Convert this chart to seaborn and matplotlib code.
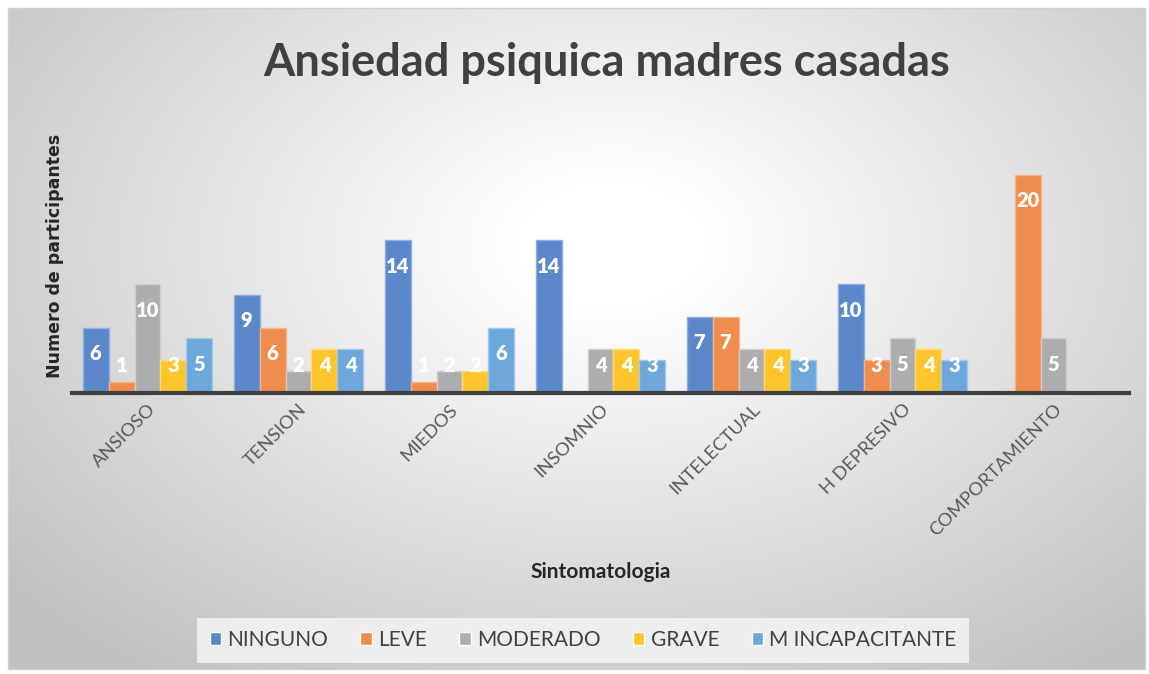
import numpy as np
import pandas as pd
import matplotlib
matplotlib.use("Agg")
import matplotlib.pyplot as plt
import seaborn as sns
from matplotlib.patches import Rectangle

categorias = ["ANSIOSO", "TENSION", "MIEDOS", "INSOMNIO", "INTELECTUAL", "H DEPRESIVO", "COMPORTAMIENTO"]
series = ["NINGUNO", "LEVE", "MODERADO", "GRAVE", "M INCAPACITANTE"]
ninguno = [6, 9, 14, 14, 7, 10, 0]
leve = [1, 6, 1, 0, 7, 3, 20]
moderado = [10, 2, 2, 4, 4, 5, 5]
grave = [3, 4, 2, 4, 4, 4, 0]
m_incapacitante = [5, 4, 6, 3, 3, 3, 0]
valores = [ninguno, leve, moderado, grave, m_incapacitante]
colores = ["#5B87CB", "#EE8D4D", "#ADADAD", "#FFC52A", "#6DA7DB"]
bordes = ["#8FAEDF", "#F5B58A", "#CFCFCF", "#FFDB80", "#A3C8EA"]

rows = []
for s, vals in zip(series, valores):
    for c, v in zip(categorias, vals):
        rows.append({"Sintomatologia": c, "Serie": s, "Valor": v})
df = pd.DataFrame(rows)

sns.set_theme(style="white")
plt.rcParams["font.family"] = ["Lato", "DejaVu Sans"]

W, H = 1149, 674
fig = plt.figure(figsize=(W / 100, H / 100), dpi=100)

# background with radial gradient
bg = fig.add_axes([0, 0, 1, 1], zorder=-10)
bg.set_xlim(0, W)
bg.set_ylim(H, 0)
bg.axis("off")
yy, xx = np.mgrid[0:H, 0:W]
d = np.sqrt(((xx - 610) / 640.0) ** 2 + ((yy - 240) / 430.0) ** 2)
val = 1.0 - 0.22 * np.clip(d - 0.15, 0, 1.2) / 1.0
val = np.clip(val, 0.76, 1.0)
img = np.dstack([val, val, val])
bg.imshow(img, extent=(8, W - 4, H - 5, 8), aspect="auto", zorder=0)
bg.add_patch(Rectangle((8, 8), W - 12, H - 13, fill=False, edgecolor="#D0D0D0", lw=1))

top_px, base_px = 130.5, 393
ymax = 24.06
ax = fig.add_axes([72 / W, (H - base_px) / H, 1057 / W, (base_px - top_px) / H])
ax.patch.set_alpha(0)

sns.barplot(data=df, x="Sintomatologia", y="Valor", hue="Serie", order=categorias,
            hue_order=series, palette=colores, width=0.86, gap=0, ax=ax,
            linewidth=1.0, saturation=1, legend=True)

for i, cont in enumerate(ax.containers):
    for j, bar in enumerate(cont):
        bar.set_edgecolor(bordes[i])
        v = valores[i][j]
        if v > 0:
            ax.text(bar.get_x() + bar.get_width() / 2, max(v - 2.4, 2.5), str(v),
                    ha="center", va="center", color="white", fontsize=14.5,
                    fontweight="heavy")

ax.set_ylim(0, ymax)
ax.set_xlim(-0.5, 6.5)
ax.set_yticks([])
ax.set_ylabel("")
ax.set_xlabel("")
for s in ["top", "right", "left"]:
    ax.spines[s].set_visible(False)
ax.spines["bottom"].set_color("#404040")
ax.spines["bottom"].set_linewidth(3)
ax.tick_params(axis="x", length=0, pad=6)
ax.set_xticks(range(len(categorias)))
ax.set_xticklabels(categorias, rotation=45, ha="right", rotation_mode="anchor",
                   fontsize=13.3, color="#595959")

handles, labels = ax.get_legend_handles_labels()
ax.get_legend().remove()
leg = fig.legend(handles, labels, loc="center", bbox_to_anchor=(583 / W, 1 - 640 / H),
                 ncol=5, frameon=True, fontsize=15, handlelength=0.55, handleheight=0.55,
                 handletextpad=0.3, columnspacing=1.55, borderpad=0.6, fancybox=False)
leg.get_frame().set_facecolor("#F2F2F2")
leg.get_frame().set_edgecolor("none")
leg.get_frame().set_alpha(0.9)
for t in leg.get_texts():
    t.set_color("#404040")

fig.text(607 / W, 1 - 63 / H, "Ansiedad psiquica madres casadas", ha="center", va="center",
         fontsize=32.5, fontweight="bold", color="#404040")
fig.text(55 / W, 1 - 256 / H, "Numero de participantes", ha="center", va="center",
         rotation=90, fontsize=12.5, fontweight="bold", color="#262626",
         family="DejaVu Sans")
fig.text(601 / W, 1 - 572 / H, "Sintomatologia", ha="center", va="center",
         fontsize=15, fontweight="bold", color="#262626")

fig.savefig("out.png", dpi=100)
